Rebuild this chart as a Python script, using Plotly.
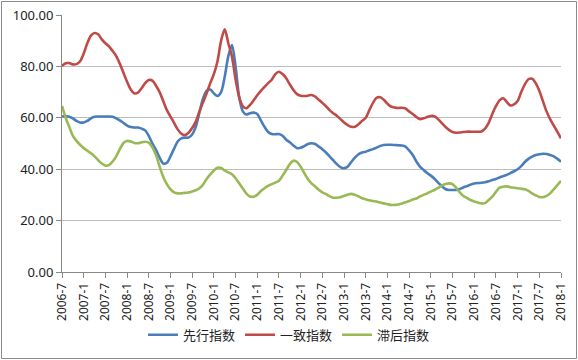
import plotly.graph_objects as go

# monthly categories 2006-7 .. 2018-1
months = []
y, m = 2006, 7
while (y, m) <= (2018, 1):
    months.append(f"{y}-{m}")
    m += 1
    if m > 12:
        m = 1
        y += 1

leading = [60.5, 60.7, 60.4, 59.8, 58.8, 58.2, 58.2, 58.8, 59.8, 60.4,
           60.5, 60.5, 60.5, 60.5, 60.4, 59.8, 59.0, 58.0, 57.0, 56.4,
           56.2, 56.2, 55.8, 55.1, 53.0, 50.0, 47.5, 44.5, 42.2, 42.5,
           45.0, 48.0, 50.8, 52.0, 52.3, 52.3, 53.5, 56.5, 62.0, 67.5,
           70.5, 71.0, 69.5, 68.5, 70.0, 76.0, 84.0, 88.3, 80.0, 68.0,
           62.5, 61.3, 61.8, 62.0, 61.5, 59.0, 56.5, 54.5, 53.7, 53.6,
           53.7, 53.0, 51.5, 50.5, 49.2, 48.2, 48.3, 49.0, 49.8, 50.1,
           49.8, 48.8, 47.8, 46.5, 45.0, 43.5, 42.0, 40.8, 40.4, 41.0,
           42.8, 44.5, 45.8, 46.5, 46.8, 47.4, 47.8, 48.4, 49.0, 49.4,
           49.5, 49.5, 49.4, 49.3, 49.2, 48.8, 47.3, 45.5, 43.0, 41.0,
           39.7, 38.5, 37.5, 36.3, 34.8, 33.5, 32.3, 31.9, 31.9, 31.9,
           32.3, 32.9, 33.4, 34.0, 34.4, 34.6, 34.7, 34.9, 35.3, 35.8,
           36.2, 36.8, 37.3, 37.8, 38.5, 39.2, 40.0, 41.2, 42.8, 44.0,
           44.9, 45.5, 45.8, 46.0, 45.9, 45.5, 45.0, 44.0, 42.9]

coincident = [80.2, 81.2, 81.3, 80.8, 80.9, 82.0, 85.0, 89.0, 92.0, 93.0,
              92.5, 90.5, 89.0, 87.8, 86.0, 84.0, 81.0, 77.5, 74.0, 71.0,
              69.5, 69.8, 71.5, 73.5, 74.7, 74.5, 72.5, 70.0, 66.5, 63.0,
              60.5, 58.0, 55.5, 53.8, 53.3, 54.2, 56.0, 58.5, 62.5, 66.0,
              69.5, 73.5, 77.0, 82.0, 90.0, 94.4, 89.0, 83.8, 75.0, 68.0,
              64.5, 63.7, 65.0, 66.8, 68.8, 70.5, 72.0, 73.5, 74.8, 77.0,
              77.9, 77.0, 75.4, 73.0, 70.8, 69.2, 68.6, 68.5, 68.6, 68.9,
              68.3, 67.0, 65.8, 64.5, 63.0, 61.8, 60.8, 59.5, 58.2, 57.2,
              56.5, 56.5, 57.5, 58.8, 60.0, 63.0, 65.8, 67.8, 68.0, 67.0,
              65.5, 64.4, 64.0, 63.8, 63.9, 63.6, 62.5, 61.5, 60.3, 59.5,
              59.8, 60.3, 60.7, 60.6, 59.5, 58.0, 56.5, 55.3, 54.5, 54.2,
              54.3, 54.5, 54.6, 54.6, 54.6, 54.6, 54.7, 55.8, 58.0, 61.5,
              64.5, 66.8, 67.6, 66.2, 64.8, 65.2, 66.5, 70.0, 73.0, 75.0,
              75.2, 73.5, 70.5, 66.5, 62.5, 59.5, 57.0, 54.5, 52.0]

lagging = [64.6, 60.0, 56.5, 53.0, 51.0, 49.5, 48.2, 47.2, 46.2, 45.0,
           43.5, 42.2, 41.4, 41.6, 43.0, 45.0, 47.8, 50.2, 51.0, 50.8,
           50.2, 50.1, 50.5, 50.7, 50.3, 48.5, 45.5, 41.0, 37.0, 34.2,
           32.2, 31.0, 30.6, 30.6, 30.8, 30.9, 31.3, 31.8, 32.6, 34.0,
           36.2, 38.0, 39.5, 40.6, 40.5, 39.5, 38.8, 38.0, 36.5, 34.5,
           32.5, 30.5, 29.4, 29.3, 30.0, 31.5, 32.6, 33.5, 34.2, 34.8,
           35.5, 37.5, 39.7, 42.0, 43.3, 42.8, 41.0, 38.5, 36.2, 34.5,
           33.3, 32.0, 31.0, 30.3, 29.5, 28.9, 28.9, 29.1, 29.6, 30.1,
           30.4, 30.0, 29.4, 28.7, 28.3, 27.9, 27.6, 27.4, 27.0, 26.7,
           26.4, 26.1, 26.1, 26.3, 26.7, 27.1, 27.6, 28.2, 28.6, 29.4,
           30.0, 30.6, 31.3, 31.9, 32.7, 33.6, 34.2, 34.5, 34.2, 32.8,
           31.0, 29.6, 28.8, 28.0, 27.4, 27.0, 26.7, 26.8, 28.0, 29.3,
           31.2, 32.8, 33.2, 33.3, 33.0, 32.8, 32.6, 32.4, 32.2, 31.6,
           30.6, 29.8, 29.2, 29.1, 29.6, 30.6, 32.2, 33.8, 35.5]

series_names = ["先行指数", "一致指数", "滞后指数"]
series_colors = ["#4A7EBB", "#BE4B48", "#98B954"]
tick_labels = months[::6]
y_ticks = [0, 20, 40, 60, 80, 100]

fig = go.Figure()
for name, vals, col in zip(series_names, [leading, coincident, lagging], series_colors):
    fig.add_trace(go.Scatter(
        x=months, y=vals, name=name, mode="lines",
        line=dict(color=col, width=2.6, shape="spline", smoothing=0.8),
    ))

font_main = "Noto Sans, Noto Sans CJK SC, sans-serif"

fig.update_layout(
    width=578, height=360,
    margin=dict(l=62, r=17, t=15, b=88, autoexpand=False),
    paper_bgcolor="white", plot_bgcolor="white",
    font=dict(family=font_main, size=12, color="#222"),
    showlegend=True,
    legend=dict(orientation="h", xref="container", x=0.5, xanchor="center",
                yref="container", y=0.07, yanchor="middle",
                font=dict(size=13, family="Noto Sans CJK SC, sans-serif"),
                itemwidth=30, tracegroupgap=0, bgcolor="rgba(0,0,0,0)"),
    xaxis=dict(
        type="category", range=[0, len(months) - 1], automargin=False,
        tickmode="array", tickvals=tick_labels, ticktext=tick_labels,
        tickangle=-90, ticks="outside", ticklen=5, tickcolor="#888",
        showline=True, linecolor="#888", linewidth=1,
        showgrid=False, zeroline=False,
        tickfont=dict(size=12, family=font_main, color="#222"),
    ),
    yaxis=dict(
        range=[0, 100], tickvals=y_ticks, tickformat=".2f", automargin=False,
        ticks="outside", ticklen=5, tickcolor="#888",
        showline=True, linecolor="#888", linewidth=1,
        showgrid=True, gridcolor="#BDBDBD", gridwidth=1,
        zeroline=False,
        tickfont=dict(size=13, family=font_main, color="#222"),
    ),
)

# outer chart border
fig.add_shape(type="rect", xref="paper", yref="paper",
              x0=(1.5 - 62) / 499, x1=(576.5 - 62) / 499,
              y0=-(358.5 - 272) / 257, y1=(272 - 1.5) / 257,
              line=dict(color="#8C8C8C", width=1), layer="below")

fig.write_html("out.html", config={"displayModeBar": False},
               post_script="document.body.style.margin='0';document.body.style.overflow='hidden';")
